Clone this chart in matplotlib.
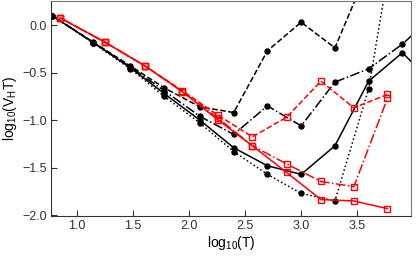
import matplotlib
matplotlib.use("Agg")
import matplotlib.pyplot as plt

plt.rcParams['font.family'] = ['Liberation Sans', 'DejaVu Sans']
plt.rcParams['mathtext.default'] = 'regular'

# log10(T) positions of the black (filled circle) runs
x_black = [0.778, 1.146, 1.477, 1.778, 2.097, 2.398, 2.699, 3.0, 3.301, 3.602, 3.903, 4.204]
black_solid = [0.10, -0.185, -0.45, -0.72, -1.00, -1.29, -1.48, -1.57, -1.27, -0.59, -0.29, -0.65]
black_dashdot = [0.10, -0.185, -0.44, -0.69, -0.96, -1.15, -0.85, -1.06, -0.60, -0.46, -0.20, 0.12]
black_dashed = [0.10, -0.18, -0.43, -0.66, -0.86, -0.92, -0.27, 0.03, -0.24, 0.60]
black_dotted = [0.10, -0.19, -0.46, -0.75, -1.03, -1.33, -1.57, -1.77, -1.85, -0.67, 1.44]

# log10(T) positions of the red (open square) runs
x_red = [0.848, 1.25, 1.607, 1.94, 2.26, 2.565, 2.87, 3.176, 3.47, 3.77]
red_solid = [0.077, -0.18, -0.43, -0.70, -1.00, -1.27, -1.55, -1.835, -1.85, -1.93]
red_dashdot = [0.077, -0.18, -0.43, -0.70, -0.98, -1.27, -1.46, -1.645, -1.70, -0.77]
red_dashed = [0.077, -0.18, -0.43, -0.69, -0.95, -1.175, -0.97, -0.59, -0.87, -0.73]

fig = plt.figure(figsize=(4.16, 2.56), dpi=100)
ax = fig.add_axes([0.1226, 0.1574, 0.8654, 0.8386])

bkw = dict(color='black', lw=1.1, marker='o', ms=3.6)
ax.plot(x_black, black_solid, ls='-', **bkw)
ax.plot(x_black, black_dashdot, ls='-.', **bkw)
ax.plot(x_black[:len(black_dashed)], black_dashed, ls='--', **bkw)
ax.plot(x_black[:len(black_dotted)], black_dotted, ls=':', **bkw)

rkw = dict(color='red', lw=1.1, marker='s', ms=4.2, mfc='none', mew=1.0)
ax.plot(x_red, red_solid, ls='-', **rkw)
ax.plot(x_red, red_dashdot, ls='-.', **rkw)
ax.plot(x_red, red_dashed, ls='--', **rkw)

ax.set_xlim(0.768, 3.98)
ax.set_ylim(-2.005, 0.253)
ax.set_xticks([1.0, 1.5, 2.0, 2.5, 3.0, 3.5])
ax.set_yticks([0.0, -0.5, -1.0, -1.5, -2.0])
ax.set_xticklabels(['1.0', '1.5', '2.0', '2.5', '3.0', '3.5'])
ax.set_yticklabels(['0.0', '\u22120.5', '\u22121.0', '\u22121.5', '\u22122.0'])
ax.tick_params(direction='in', length=4, width=0.8, labelsize=9, colors='#333333', pad=3)

for s in ['left', 'bottom']:
    ax.spines[s].set_color('#333333')
for s in ['top', 'right']:
    ax.spines[s].set_color('#777777')

ax.set_xlabel(r'log$_{10}$(T)', fontsize=10)
ax.set_ylabel(r'log$_{10}$(V$_H$T)', fontsize=10)
ax.xaxis.set_label_coords(0.5, -0.085)
ax.yaxis.set_label_coords(-0.09, 0.5)

fig.savefig('out.png', dpi=100)
